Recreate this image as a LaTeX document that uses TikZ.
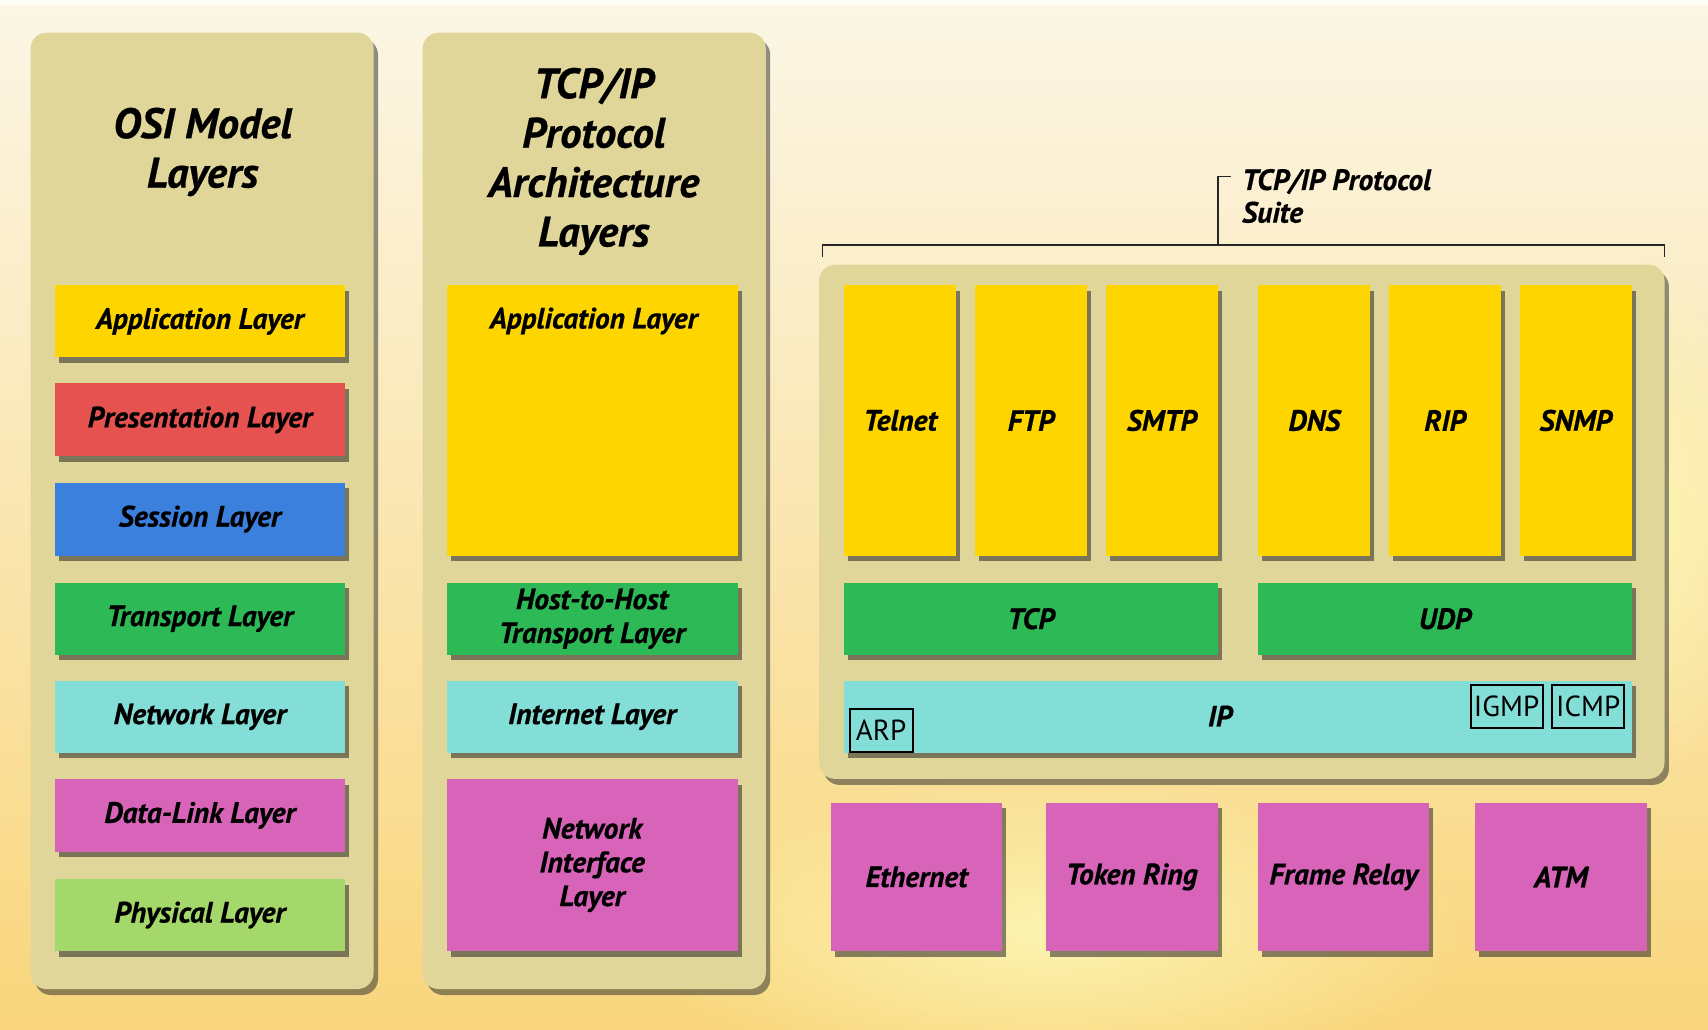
\documentclass[tikz,border=0pt]{standalone}
\usepackage{fontspec}
\setmainfont{PT Sans}[BoldItalicFeatures={FakeBold=0.6}]
\usetikzlibrary{shadows,fadings}

\definecolor{panel}{RGB}{225,214,153}
\definecolor{appY}{RGB}{255,213,0}
\definecolor{presR}{RGB}{229,82,80}
\definecolor{sessB}{RGB}{58,128,220}
\definecolor{transG}{RGB}{46,185,87}
\definecolor{netC}{RGB}{130,222,214}
\definecolor{linkM}{RGB}{215,100,185}
\definecolor{physG}{RGB}{164,216,106}
\definecolor{bgTop}{RGB}{251,246,230}
\definecolor{bgBot}{RGB}{249,214,124}
\definecolor{bgGlow}{RGB}{252,244,176}

\tikzfading[name=glowfade, inner color=transparent!0, outer color=transparent!100]

\tikzset{
  layerbox/.style={inner sep=0pt, draw=none,
    drop shadow={shadow xshift=2pt, shadow yshift=-2.8pt, opacity=0.55, fill=black!85}},
  panelbox/.style={inner sep=0pt, fill=panel, rounded corners=8pt,
    drop shadow={shadow xshift=2.2pt, shadow yshift=-3pt, opacity=0.5, fill=black!85}},
  lbl/.style={font=\fontsize{14.7}{16.9}\selectfont\bfseries\itshape, align=center},
  ttl/.style={font=\fontsize{21.3}{24.7}\selectfont\bfseries\itshape, align=center},
  tag/.style={draw=black, line width=1pt, font=\fontsize{14.5}{16}\selectfont,
    inner xsep=1pt, inner ysep=0pt, minimum height=21.3pt},
  bracket/.style={line width=0.8pt, draw=black!85}
}

% box from (x1,y1) to (x2,y2): name, x1, y1, x2, y2, style, text
\newcommand\drawlayer[7]{%
  \node[#6, minimum width={(#4-#2)*0.5pt}, minimum height={(#5-#3)*0.5pt}]
    (#1) at ({(#2+#4)/2},{(#3+#5)/2}) {#7};}

\begin{document}
\begin{tikzpicture}[x=0.5pt, y=-0.5pt]
\useasboundingbox (0,0) rectangle (1708,1029);

% background
\shade[top color=bgTop, bottom color=bgBot] (0,0) rectangle (1708,1029);
\fill[bgGlow, path fading=glowfade] (1050,930) ellipse (420 and 160);
\fill[bgGlow, path fading=glowfade] (1650,520) ellipse (120 and 260);
\fill[white, opacity=0.6] (0,0) rectangle (1708,5);

% ---------- OSI model column ----------
\drawlayer{osiPanel}{30.5}{32.7}{373.6}{989}{panelbox}{}
\node[ttl] (osiTitle) at (202.6,152) {OSI Model\\Layers};
\drawlayer{osiApp}  {54.5}{285.4}{345.3}{357.3}{layerbox, fill=appY,   lbl}{Application Layer}
\drawlayer{osiPres} {54.5}{383.4}{345.3}{456.4}{layerbox, fill=presR,  lbl}{Presentation Layer}
\drawlayer{osiSess} {54.5}{482.6}{345.3}{555.5}{layerbox, fill=sessB,  lbl}{Session Layer}
\drawlayer{osiTrans}{54.5}{582.8}{345.3}{654.7}{layerbox, fill=transG, lbl}{Transport Layer}
\drawlayer{osiNet}  {54.5}{680.8}{345.3}{752.7}{layerbox, fill=netC,   lbl}{Network Layer}
\drawlayer{osiLink} {54.5}{778.9}{345.3}{851.8}{layerbox, fill=linkM,  lbl}{Data-Link Layer}
\drawlayer{osiPhys} {54.5}{879.1}{345.3}{951.0}{layerbox, fill=physG,  lbl}{Physical Layer}

% ---------- TCP/IP architecture column ----------
\drawlayer{tcpPanel}{422.6}{32.7}{765.8}{989}{panelbox}{}
\node[ttl] (tcpTitle) at (593.7,161.5) {TCP/IP\\Protocol\\Architecture\\Layers};
\drawlayer{tcpApp}  {446.6}{285.4}{737.5}{555.5}{layerbox, fill=appY}{}
\node[lbl] (tcpAppText) at (593.7,321) {Application Layer};
\drawlayer{tcpTrans}{446.6}{582.8}{737.5}{654.7}{layerbox, fill=transG, lbl}{Host-to-Host\\Transport Layer}
\drawlayer{tcpNet}  {446.6}{680.8}{737.5}{752.7}{layerbox, fill=netC,   lbl}{Internet Layer}
\drawlayer{tcpLink} {446.6}{778.9}{737.5}{951.0}{layerbox, fill=linkM,  lbl}{Network\\Interface\\Layer}

% ---------- protocol suite ----------
\drawlayer{suitePanel}{819.2}{264.7}{1664.5}{778.9}{panelbox}{}

\drawlayer{telnet}{844.2} {285.4}{956.4} {555.5}{layerbox, fill=appY, lbl}{Telnet}
\drawlayer{ftp}   {975.0} {285.4}{1087.1}{555.5}{layerbox, fill=appY, lbl}{FTP}
\drawlayer{smtp}  {1105.7}{285.4}{1217.9}{555.5}{layerbox, fill=appY, lbl}{SMTP}
\drawlayer{dns}   {1258.2}{285.4}{1370.4}{555.5}{layerbox, fill=appY, lbl}{DNS}
\drawlayer{rip}   {1388.9}{285.4}{1501.1}{555.5}{layerbox, fill=appY, lbl}{RIP}
\drawlayer{snmp}  {1519.6}{285.4}{1631.8}{555.5}{layerbox, fill=appY, lbl}{SNMP}

\drawlayer{tcp}{844.2} {582.8}{1217.9}{654.7}{layerbox, fill=transG, lbl}{TCP}
\drawlayer{udp}{1258.2}{582.8}{1631.8}{654.7}{layerbox, fill=transG, lbl}{UDP}

\drawlayer{ip}{844.2}{680.8}{1631.8}{752.7}{layerbox, fill=netC}{}
\node[lbl] (ipText) at (1220,716) {IP};
\node[tag, minimum width=31.5pt, anchor=south west] (arp)  at (848.6,752.7) {ARP};
\node[tag, minimum width=36pt,   anchor=north east] (icmp) at (1625.3,684.0) {ICMP};
\node[tag, minimum width=36pt,   anchor=north east] (igmp) at (1543.6,684.0) {IGMP};

\drawlayer{ether}{831.1} {802.8}{1002.2}{951.0}{layerbox, fill=linkM, lbl}{Ethernet}
\drawlayer{token}{1045.7}{802.8}{1217.9}{951.0}{layerbox, fill=linkM, lbl}{Token Ring}
\drawlayer{frame}{1258.2}{802.8}{1429.2}{951.0}{layerbox, fill=linkM, lbl}{Frame Relay}
\drawlayer{atm}  {1474.9}{802.8}{1647.0}{951.0}{layerbox, fill=linkM, lbl}{ATM}

% bracket over the suite
\coordinate (brL)   at (822.4,257.1);
\coordinate (brLt)  at (822.4,245.1);
\coordinate (brRt)  at (1664.5,245.1);
\coordinate (brR)   at (1664.5,257.1);
\coordinate (brMid) at (1217.9,245.1);
\coordinate (brTop) at (1217.9,176.5);
\coordinate (brTick) at (1230.9,176.5);
\draw[bracket] (brL) -- (brLt) -- (brRt) -- (brR);
\draw[bracket] (brMid) -- (brTop) -- (brTick);
\node[font=\fontsize{14.7}{16.3}\selectfont\bfseries\itshape, align=left, anchor=west, inner sep=0pt]
  (suiteText) at (1241.8,196) {TCP/IP Protocol\\Suite};
\end{tikzpicture}
\end{document}
